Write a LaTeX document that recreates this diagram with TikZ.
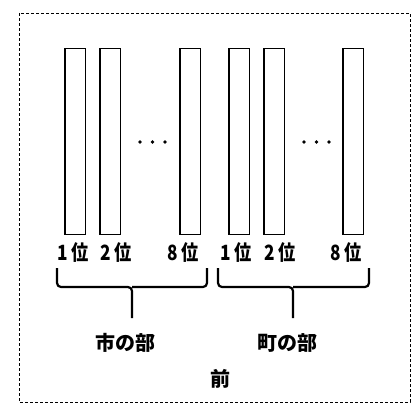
\documentclass[tikz,border=0pt]{standalone}
\usepackage{fontspec}
\usepackage{tikz}
\usetikzlibrary{positioning}
\newfontfamily\cjk{Noto Sans CJK JP}
\newfontfamily\cjknarrow[FakeStretch=0.82]{Noto Sans CJK JP}

\begin{document}
\begin{tikzpicture}[x=1pt,y=-1pt,node distance=35pt,
  bar/.style={draw,line width=1.5pt,minimum width=20.5pt,minimum height=185.5pt,inner sep=0pt},
  rank/.style={font=\cjknarrow\bfseries\fontsize{21}{21}\selectfont,inner sep=0pt},
  part/.style={font=\cjk\bfseries\fontsize{20}{20}\selectfont,inner sep=0pt},
  brc/.style={line width=2.2pt,rounded corners=4pt},
  frame/.style={dash pattern=on 3pt off 2pt,line width=0.8pt}]
\useasboundingbox (0,0) rectangle (419,406);
\draw[frame] (19,13) rectangle (410,402);

\node[bar] (s1) at (75,141.5) {};
\node[bar] (s2) [right of=s1] {};
\node[bar] (s8) at (190,141.5) {};
\node[bar] (t1) at (239,141.5) {};
\node[bar] (t2) [right of=t1] {};
\node[bar] (t8) at (353,141.5) {};

\foreach \x in {140,152.5,165,304,316.5,329}
  \fill (\x,142) circle (1.8pt);

\node[rank] (s1l) at (73,253) {1 位};
\node[rank] (s2l) at (116,253) {2 位};
\node[rank] (s8l) at (183,253) {8 位};
\node[rank] (t1l) at (236,253) {1 位};
\node[rank] (t2l) at (280,253) {2 位};
\node[rank] (t8l) at (346,253) {8 位};

\coordinate (sa) at (57,268);
\coordinate (sb) at (207,268);
\coordinate (sc) at (132,287);
\coordinate (sd) at (132,318);
\coordinate (ta) at (218,268);
\coordinate (tb) at (369,268);
\coordinate (tc) at (293,287);
\coordinate (td) at (293,318);
\draw[brc] (sa) |- (sc) -- (sd) (sb) |- (sc);
\draw[brc] (ta) |- (tc) -- (td) (tb) |- (tc);

\node[part] (city) at (125,343) {市の部};
\node[part] (town) at (287,343) {町の部};
\node[part] (front) at (220,379) {前};
\end{tikzpicture}
\end{document}
